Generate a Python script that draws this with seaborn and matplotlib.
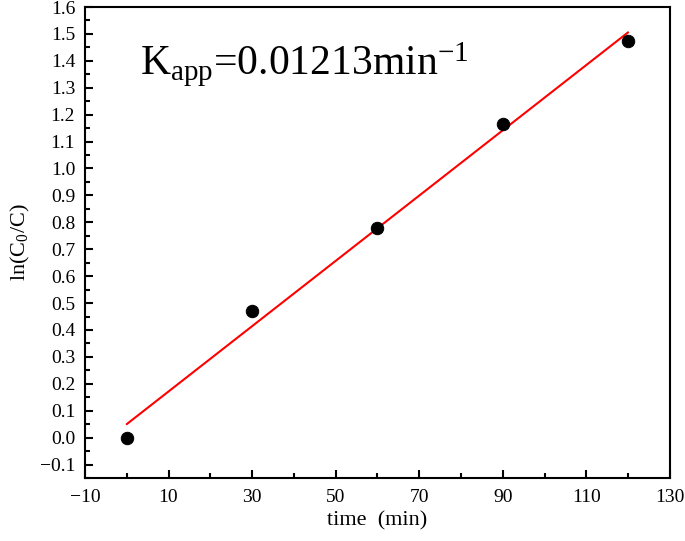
import matplotlib
matplotlib.use("Agg")
import matplotlib.pyplot as plt
import seaborn as sns
import pandas as pd
from matplotlib.ticker import MultipleLocator

# data
time_min = [0, 30, 60, 90, 120]
ln_c0_c = [0.0, 0.47, 0.78, 1.165, 1.475]
fit_time = [0, 120]
fit_ln = [0.05, 1.506]
x_ticks = [-10, 10, 30, 50, 70, 90, 110, 130]
y_ticks = [-0.1, 0.0, 0.1, 0.2, 0.3, 0.4, 0.5, 0.6, 0.7, 0.8,
           0.9, 1.0, 1.1, 1.2, 1.3, 1.4, 1.5, 1.6]

sns.set_style("ticks")
plt.rcParams['font.family'] = ['Liberation Serif', 'DejaVu Serif']
plt.rcParams['mathtext.fontset'] = 'custom'
plt.rcParams['mathtext.rm'] = 'Liberation Serif'
plt.rcParams['mathtext.it'] = 'Liberation Serif'
# plain black text and axes, not seaborn's dark grey
for key in ['text.color', 'axes.labelcolor', 'xtick.color', 'ytick.color', 'axes.edgecolor']:
    plt.rcParams[key] = 'black'

df = pd.DataFrame({'time': time_min, 'ln': ln_c0_c})
fit = pd.DataFrame({'time': fit_time, 'ln': fit_ln})

fig = plt.figure(figsize=(6.85, 5.41), dpi=100)
ax = fig.add_axes([0.124, 0.1165, 0.854, 0.8705])

sns.lineplot(data=fit, x='time', y='ln', color='red', lw=1.5, ax=ax)
sns.scatterplot(data=df, x='time', y='ln', color='black', s=80,
                edgecolor='black', zorder=3, ax=ax)

ax.set_xlim(-10, 130)
ax.set_ylim(-0.15, 1.6)
ax.set_xticks(x_ticks)
ax.xaxis.set_minor_locator(MultipleLocator(10))
ax.yaxis.set_minor_locator(MultipleLocator(0.05))
ax.set_yticks(y_ticks)
ax.set_yticklabels([f"{v:.1f}".replace('-', '\u2212') for v in y_ticks])
ax.set_xticklabels([str(v).replace('-', '\u2212') for v in x_ticks])

ax.tick_params(axis='x', which='major', pad=8)
ax.tick_params(axis='y', which='major', pad=7)
ax.tick_params(which='major', direction='in', length=6, width=1.5, labelsize=14)
ax.tick_params(which='minor', direction='in', length=3.5, width=1.5)
ax.tick_params(top=False, right=False, which='both')
for sp in ax.spines.values():
    sp.set_linewidth(1.5)

ax.set_xlabel('time  (min)', fontsize=16, labelpad=4)
ax.set_ylabel('ln(C$_0$/C)', fontsize=16, labelpad=6)

ax.text(0.094, 0.877, r'K$_{\rm app}$=0.01213min$^{-1}$', transform=ax.transAxes,
        fontsize=30, va='center', ha='left')

fig.savefig('out.png', dpi=100)
